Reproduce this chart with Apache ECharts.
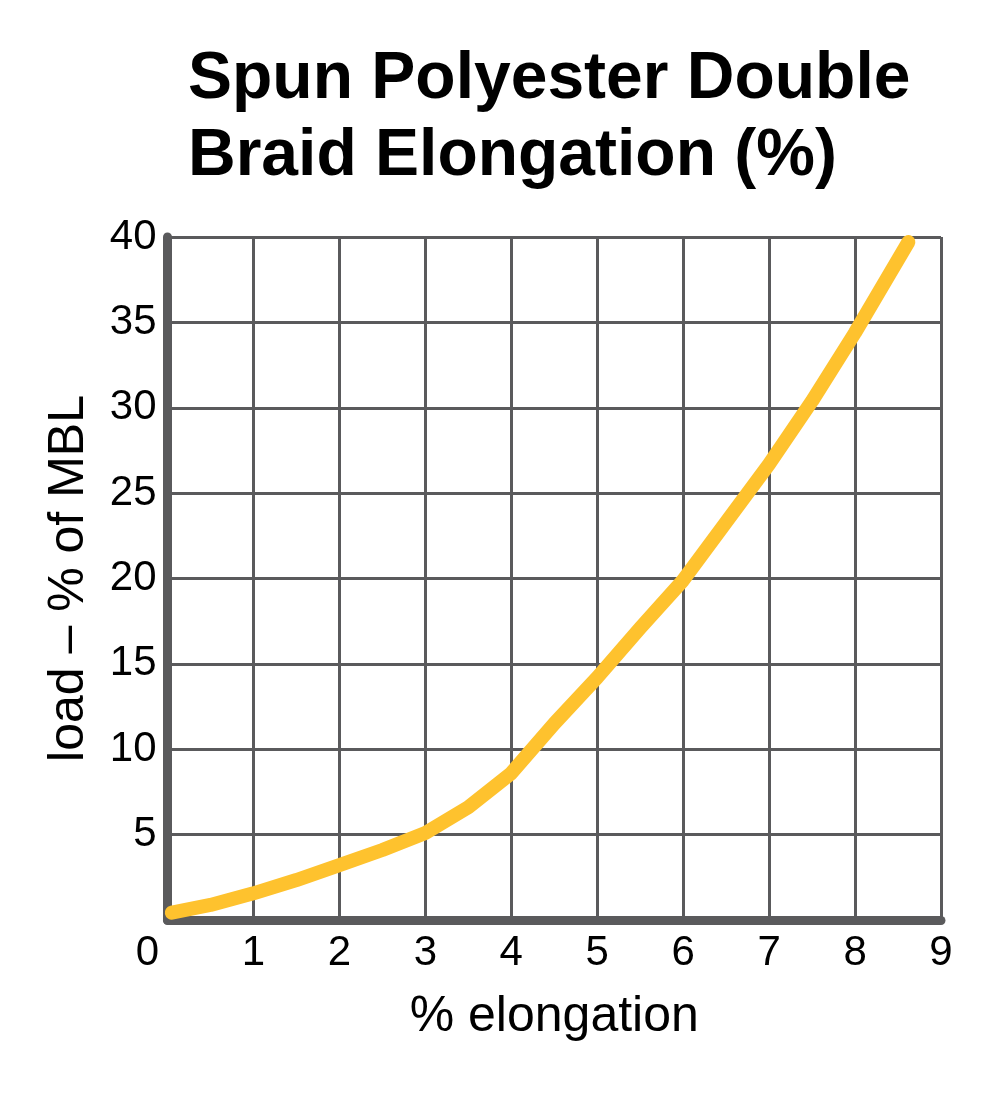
<!DOCTYPE html>
<html>
<head>
<meta charset="utf-8">
<script src="https://cdn.jsdelivr.net/npm/echarts@6/dist/echarts.min.js"></script>
<style>
html,body{margin:0;padding:0;background:#fff;}
#chart{width:1000px;height:1093px;}
</style>
</head>
<body>
<div id="chart"></div>
<script>
// Data
const titleText = 'Spun Polyester Double\nBraid Elongation (%)';
const xAxisName = '% elongation';
const yAxisName = 'load – % of MBL';
const elongation = [0.05, 0.5, 1, 1.5, 2, 2.5, 3, 3.5, 4, 4.5, 5, 5.5, 6, 6.5, 7, 7.5, 8, 8.62];
const load       = [0.43, 0.88, 1.56, 2.34, 3.22, 4.1, 5.1, 6.6, 8.6, 11.5, 14.2, 17.1, 19.9, 23.3, 26.7, 30.4, 34.4, 39.7];
const xRange = [0, 9];
const yRange = [0, 40];

const FONT = '"Liberation Sans", Arial, Helvetica, sans-serif';
const GRID_COLOR = '#5a5a5c';

const chart = echarts.init(document.getElementById('chart'), null, {renderer: 'canvas'});
chart.setOption({
  backgroundColor: '#ffffff',
  animation: false,
  title: {
    text: titleText,
    left: 183,
    top: 36,
    textStyle: {
      fontFamily: FONT,
      fontWeight: 'bold',
      fontSize: 66,
      lineHeight: 77,
      color: '#000000'
    }
  },
  grid: {
    left: 167.5,
    right: 59,
    top: 237,
    bottom: 173,
    containLabel: false
  },
  xAxis: {
    type: 'value',
    min: xRange[0],
    max: xRange[1],
    interval: 1,
    name: xAxisName,
    nameLocation: 'middle',
    nameGap: 72,
    nameTextStyle: {fontFamily: FONT, fontSize: 50, color: '#000'},
    axisLine: {show: true, onZero: false, lineStyle: {color: GRID_COLOR, width: 9}},
    axisTick: {show: false},
    axisLabel: {
      margin: 12,
      fontFamily: FONT,
      fontSize: 42,
      color: '#000',
      formatter: function (v) { return v === 0 ? '{z|0}' : String(v); },
      rich: {z: {fontFamily: FONT, fontSize: 42, color: '#000', padding: [0, 40, 0, 0]}}
    },
    splitLine: {show: true, lineStyle: {color: GRID_COLOR, width: 3}}
  },
  yAxis: {
    type: 'value',
    min: yRange[0],
    max: yRange[1],
    interval: 5,
    name: yAxisName,
    nameLocation: 'middle',
    nameGap: 73,
    nameRotate: 90,
    nameTextStyle: {fontFamily: FONT, fontSize: 50, color: '#000'},
    axisLine: {show: true, onZero: false, lineStyle: {color: GRID_COLOR, width: 9}},
    axisTick: {show: false},
    axisLabel: {
      margin: 11,
      fontFamily: FONT,
      fontSize: 42,
      color: '#000',
      showMinLabel: false,
      formatter: function (v) { return v === 0 ? '' : String(v); }
    },
    splitLine: {show: true, lineStyle: {color: GRID_COLOR, width: 3}}
  },
  series: [{
    type: 'line',
    data: elongation.map((x, i) => [x, load[i]]),
    showSymbol: false,
    smooth: false,
    clip: false,
    z: 1,
    lineStyle: {color: '#fec22e', width: 14, cap: 'round', join: 'round'}
  }]
});
</script>
</body>
</html>
